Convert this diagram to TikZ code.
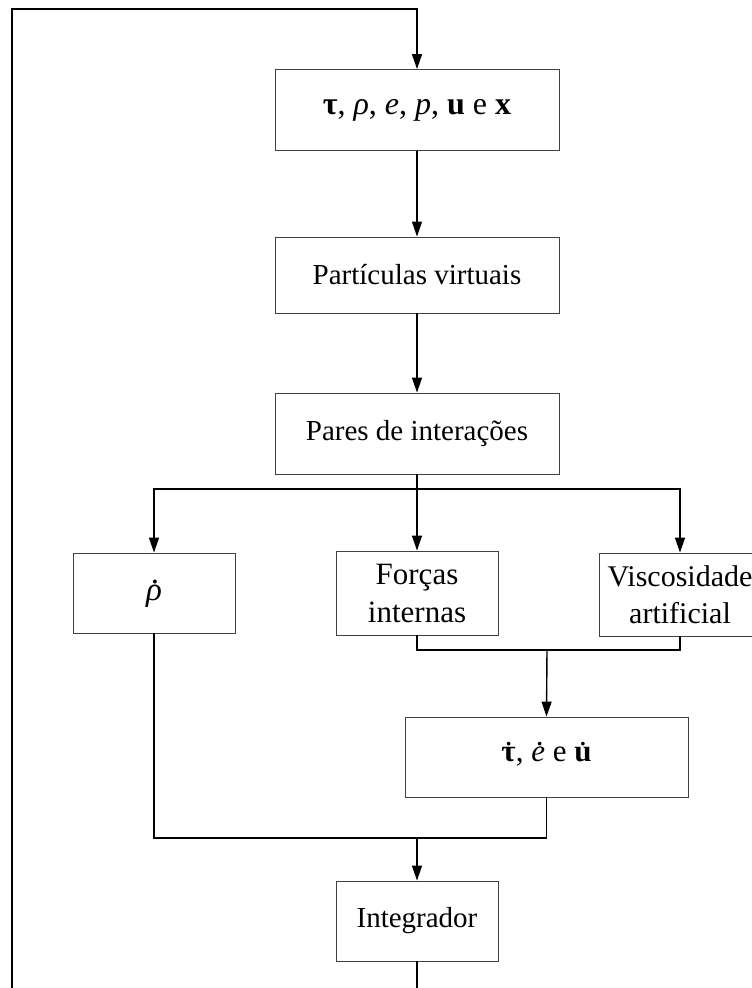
\documentclass[tikz,border=0pt]{standalone}
\usepackage{fontspec}
\setmainfont{Liberation Serif}
\usetikzlibrary{arrows.meta}
\newcommand{\dotacc}[2][0pt]{\ooalign{#2\cr\hidewidth\kern#1\raisebox{0.52em}{\normalfont.}\hidewidth\cr}}
\tikzset{
  blk/.style={draw=black!75, line width=0.9pt, minimum width=#1, inner sep=0pt, align=center, font=\fontsize{29}{33}\selectfont},
  blk/.default=162pt,
  conn/.style={line width=1.4pt, black},
  arr/.style={conn, -{Triangle[length=15pt,width=10pt]}}
}
\begin{document}
\begin{tikzpicture}[x=1pt,y=-1pt]
\useasboundingbox (0,0) rectangle (752,988);
\clip (0,0) rectangle (752,988);
\node[blk=284pt, minimum height=81pt, font=\fontsize{32}{36}\selectfont] (vars) at (417,110) {{\bfseries τ}, \textit{ρ}, \textit{e}, \textit{p}, \textbf{u} e \textbf{x}};
\node[blk=284pt, minimum height=76pt] (part) at (417,275) {Partículas virtuais};
\node[blk=284pt, minimum height=81pt] (pares) at (417,433.5) {Pares de interações};
\node[blk=162pt, minimum height=80pt, font=\fontsize{33}{36}\selectfont] (rho) at (154,593) {\dotacc[2pt]{\textit{ρ}}};
\node[blk=162pt, minimum height=84pt, font=\fontsize{31}{38}\selectfont] (forc) at (417,593) {Forças\\internas};
\node[blk=162pt, minimum height=83pt, font=\fontsize{30}{37}\selectfont] (visc) at (680,594.5) {Viscosidade\\artificial};
\node[blk=283pt, minimum height=80pt, font=\fontsize{31}{35}\selectfont] (deriv) at (546.5,757) {\dotacc{\bfseries τ}, \dotacc[3pt]{\textit{e}} e \dotacc{\bfseries u}};
\node[blk=162pt, minimum height=80pt] (integ) at (417,921) {Integrador};
\coordinate (split) at (417,489);
\coordinate (join1) at (547,650);
\coordinate (join2) at (417,838);
% main chain
\draw[arr] (vars) -- (part);
\draw[arr] (part) -- (pares);
\draw[conn] (pares.south) -- (split);
\draw[arr] (split) -| (rho.north);
\draw[arr] (split) -- (forc.north);
\draw[arr] (split) -| (visc.north);
\draw[conn] (forc.south) |- (join1);
\draw[conn] (visc.south) |- (join1);
\draw[arr] (join1) -- (deriv.north);
\draw[conn] (rho.south) |- (join2);
\draw[conn] (deriv.south) |- (join2);
\draw[arr] (join2) -- (integ.north);
% feedback loop
\coordinate (lb) at (12,1000);
\coordinate (lt) at (12,9);
\draw[arr] (integ.south) -- (integ.south |- lb) -- (lb) -- (lt) -- (lt -| vars.north) -- (vars.north);
\end{tikzpicture}
\end{document}
